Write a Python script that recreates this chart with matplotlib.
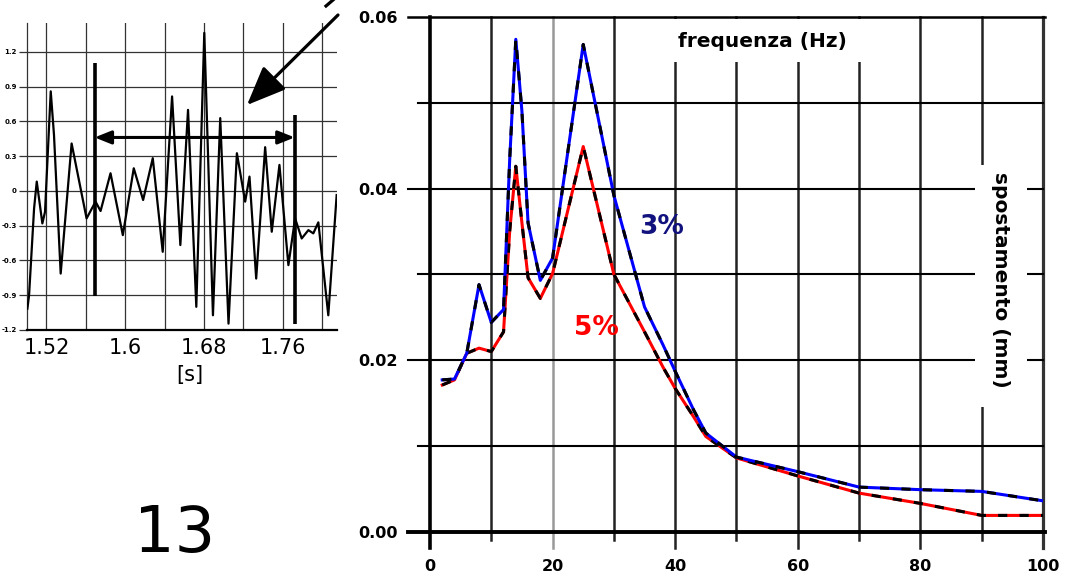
import matplotlib
matplotlib.use("Agg")
import matplotlib.pyplot as plt
from matplotlib.patches import Rectangle
from matplotlib.lines import Line2D
from matplotlib.transforms import IdentityTransform

# spettro di risposta in spostamento, smorzamento 3% e 5%
freq_hz = [2, 4, 6, 8, 10, 12, 13, 14, 15, 16, 18, 20, 25, 30, 35, 38, 40, 43, 45, 50, 60, 70, 80, 90, 100]
spost_3 = [0.0177, 0.0178, 0.0208, 0.0288, 0.0244, 0.0259, 0.0433, 0.0574, 0.0490, 0.0360, 0.0293, 0.0319,
           0.0568, 0.0392, 0.0262, 0.0218, 0.0187, 0.0142, 0.0115, 0.0087, 0.0070, 0.0052, 0.0049, 0.0047, 0.0036]
spost_5 = [0.0171, 0.0177, 0.0208, 0.0214, 0.0210, 0.0233, 0.0350, 0.0426, 0.0360, 0.0296, 0.0272, 0.0301,
           0.0449, 0.0300, 0.0233, 0.0192, 0.0167, 0.0134, 0.0111, 0.0086, 0.0065, 0.0045, 0.0033, 0.0019, 0.0019]

f_ticks = [0, 20, 40, 60, 80, 100]
s_ticks = [0.00, 0.02, 0.04, 0.06]
s_tick_labels = ["0.00", "0.02", "0.04", "0.06"]

# estratto della storia temporale
tempo_s = [1.5007, 1.5024, 1.5075, 1.5102, 1.5159, 1.5186, 1.5244, 1.5277, 1.5345, 1.5456,
           1.5608, 1.5699, 1.5750, 1.5851, 1.5976, 1.6087, 1.6182, 1.6280, 1.6381, 1.6476,
           1.6560, 1.6638, 1.6722, 1.6803, 1.6891, 1.6965, 1.7049, 1.7134, 1.7218, 1.7262,
           1.7330, 1.7421, 1.7488, 1.7566, 1.7657, 1.7725, 1.7792, 1.7860, 1.7910, 1.7961,
           1.8062, 1.8147]
segnale = [-1.016, -0.90, -0.15, 0.081, -0.28, -0.18, 0.86, 0.485, -0.713, 0.41,
           -0.237, -0.092, -0.173, 0.153, -0.381, 0.196, -0.078, 0.283, -0.525, 0.816,
           -0.467, 0.70, -1.00, 1.365, -1.073, 0.629, -1.145, 0.326, -0.092, 0.124,
           -0.756, 0.378, -0.352, 0.225, -0.64, -0.237, -0.41, -0.338, -0.366, -0.271,
           -1.073, -0.035]

t_ticks = [1.52, 1.60, 1.68, 1.76]
t_tick_labels = ["1.52", "1.6", "1.68", "1.76"]
t_grid = [1.52, 1.56, 1.60, 1.64, 1.68, 1.72, 1.76, 1.80]
a_ticks = [-1.2, -0.9, -0.6, -0.3, 0.0, 0.3, 0.6, 0.9, 1.2]
a_tick_labels = ["-1.2", "-0.9", "-0.6", "-0.3", "0", "0.3", "0.6", "0.9", "1.2"]

# finestra evidenziata sul segnale
t_inizio, t_fine = 1.5689, 1.7721

fig = plt.figure(figsize=(10.68, 5.82), dpi=100)

# --- pannello sinistro: segnale nel tempo ---
ax1 = fig.add_axes([0.025, 0.433, 0.2905, 0.5275])
ax1.plot(tempo_s, segnale, color="black", lw=1.6, zorder=3, solid_joinstyle="round")
ax1.set_xlim(1.50, 1.815)
ax1.set_ylim(-1.2, 1.45)
for t in t_grid:
    ax1.axvline(t, color="#333333", lw=0.9, zorder=1)
ax1.set_xticks(t_ticks, t_tick_labels, fontsize=15)
ax1.set_yticks(a_ticks, a_tick_labels, fontsize=5, fontweight="bold")
ax1.grid(axis="y", color="#333333", lw=0.9, zorder=1)
ax1.tick_params(axis="x", length=0, pad=6)
ax1.tick_params(axis="y", length=6, width=0.9, color="#333333", pad=1)
for s in ["top", "right"]:
    ax1.spines[s].set_visible(False)
ax1.spines["left"].set_color("#333333")
ax1.spines["left"].set_linewidth(0.9)
ax1.spines["bottom"].set_linewidth(1.6)

ax1.plot([t_inizio, t_inizio], [1.105, -0.906], color="black", lw=2.6, solid_capstyle="butt", zorder=4)
ax1.plot([t_fine, t_fine], [0.658, -1.145], color="black", lw=2.6, solid_capstyle="butt", zorder=4)
ax1.annotate("", xy=(t_inizio, 0.462), xytext=(t_fine, 0.462),
             arrowprops=dict(arrowstyle="<|-|>,head_length=0.5,head_width=0.2", mutation_scale=20,
                             lw=2.2, color="black", shrinkA=0, shrinkB=0), zorder=4)
fig.text(190 / 1068, 1 - 375 / 582, "[s]", fontsize=15, ha="center", va="center")

# freccia grande
ax1.annotate("", xy=(247, 582 - 105), xycoords="figure pixels",
             xytext=(338, 582 - 15), textcoords="figure pixels",
             arrowprops=dict(arrowstyle="-|>,head_length=0.6,head_width=0.25", mutation_scale=40,
                             lw=2.3, color="black", shrinkA=0, shrinkB=0),
             annotation_clip=False)
fig.add_artist(Line2D([326, 333], [582 - 6, 582], transform=IdentityTransform(), color="black", lw=2.3))

fig.text(175 / 1068, (582 - 552) / 582, "13", fontsize=46, ha="center", va="baseline")

# --- pannello destro: spettro ---
ax2 = fig.add_axes([0.4026, 0.0864, 0.574, 0.8844])
ax2.set_xlim(0, 100)
ax2.set_ylim(0, 0.06)
for s in ax2.spines.values():
    s.set_visible(False)

for f in range(10, 100, 10):
    col = "#999999" if f == 20 else "#222222"
    below = 0.031 if f % 20 == 0 else 0.016
    ax2.axvline(f, ymin=-below, ymax=1, color=col, lw=1.8, clip_on=False, zorder=1)
ax2.axvline(0, ymin=-0.031, ymax=1, color="black", lw=2.6, clip_on=False, zorder=1)
ax2.axvline(100, ymin=-0.031, ymax=1, color="#333333", lw=2.3, clip_on=False, zorder=1)
for v in [0.01, 0.02, 0.03, 0.04, 0.05]:
    left = 0.0359 if round(v * 100) % 2 == 0 else 0.0196
    ax2.axhline(v, xmin=-left, xmax=1, color="black", lw=1.5, clip_on=False, zorder=1)
ax2.axhline(0.06, xmin=-0.0359, xmax=1.003, color="black", lw=1.8, clip_on=False, zorder=1)
ax2.axhline(0.0, xmin=-0.0359, xmax=1.003, color="black", lw=2.8, clip_on=False, zorder=1)

# sfondi bianchi dietro le etichette degli assi
ax2.add_patch(Rectangle((38.8, 0.0547), 32.2, 0.0051, facecolor="white", edgecolor="none", zorder=1.5))
ax2.add_patch(Rectangle((88.9, 0.0145), 8.5, 0.0283, facecolor="white", edgecolor="none", zorder=1.5))

ax2.plot(freq_hz, spost_5, color="#ff0000", lw=2.2, zorder=3)
ax2.plot(freq_hz, spost_5, color="black", lw=2.2, ls=(0, (3, 4)), zorder=3.5)
ax2.plot(freq_hz, spost_3, color="#0000ff", lw=2.2, zorder=4)
ax2.plot(freq_hz, spost_3, color="black", lw=2.2, ls=(0, (3, 4)), zorder=4.5)

ax2.set_xticks(f_ticks)
ax2.set_xticklabels([str(f) for f in f_ticks], fontsize=11.5, fontweight="bold")
ax2.set_yticks(s_ticks, s_tick_labels, fontsize=11.5, fontweight="bold")
ax2.tick_params(axis="x", length=0, pad=20)
ax2.tick_params(axis="y", length=0, pad=23)

ax2.text(54.3, 0.0572, "frequenza (Hz)", fontsize=14.5, fontweight="bold", ha="center", va="center", zorder=6)
ax2.text(93.0, 0.02935, "spostamento (mm)", fontsize=14.5, fontweight="bold", rotation=270,
         ha="center", va="center", zorder=6)
ax2.text(37.85, 0.0355, "3%", fontsize=19, fontweight="bold", color="#12127e", ha="center", va="center", zorder=6)
ax2.text(27.2, 0.02375, "5%", fontsize=19, fontweight="bold", color="#ff0000", ha="center", va="center", zorder=6)

fig.savefig("out.png", dpi=100)
plt.close(fig)
